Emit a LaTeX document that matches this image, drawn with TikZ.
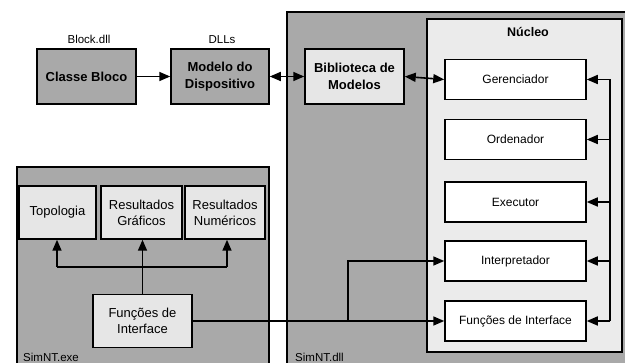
\documentclass[tikz,border=0pt]{standalone}
\usepackage{fontspec}
\setmainfont{Liberation Sans}
\usetikzlibrary{arrows.meta}
\definecolor{dgrey}{HTML}{A9A9A9}
\definecolor{lgrey}{HTML}{E6E6E6}
\definecolor{ngrey}{HTML}{EBEBEB}
\tikzset{
  box/.style={draw=black, line width=1.5pt, fill=lgrey, align=center, inner sep=0pt,
    font=\fontsize{13}{16}\selectfont},
  darkbox/.style={box, fill=dgrey, font=\fontsize{13}{17}\selectfont\bfseries},
  lightbold/.style={box, font=\fontsize{13}{17}\selectfont\bfseries},
  corebox/.style={box, fill=white, minimum width=141pt, minimum height=40pt,
    font=\fontsize{12}{14}\selectfont},
  panel/.style={draw=black, line width=1.5pt},
  conn/.style={line width=1.6pt, -{Triangle[length=11pt,width=9pt]}},
  dconn/.style={line width=1.6pt, {Triangle[length=11pt,width=9pt]}-{Triangle[length=11pt,width=9pt]}},
  wire/.style={line width=1.6pt},
  lbl/.style={font=\fontsize{11.5}{13}\selectfont, inner sep=0pt}
}
\begin{document}
\begin{tikzpicture}[x=1pt,y=-1pt]
\useasboundingbox (0,0) rectangle (625,363);
\begin{scope}
\clip (0,0) rectangle (625,363);
% outer panels
\draw[panel, fill=dgrey] (287,12) rectangle (640,380);
\draw[panel, fill=dgrey] (17,167) rectangle (269,380);
\draw[panel, fill=ngrey] (427,19) rectangle (622,352);
\end{scope}
% top row
\node[darkbox, minimum width=99pt, minimum height=55pt] (classe) at (86.5,76.5) {Classe Bloco};
\node[darkbox, minimum width=98pt, minimum height=55pt] (modelo) at (220,76.5) {Modelo do\\Dispositivo};
\node[lightbold, minimum width=99pt, minimum height=55pt] (biblio) at (354.5,76.5) {Biblioteca de\\Modelos};
\node[lbl, anchor=base] (blockdll) at (89,44) {Block.dll};
\node[lbl, anchor=base] (dlls) at (222,44) {DLLs};
\node[font=\fontsize{12.5}{14}\selectfont\bfseries, inner sep=0pt, anchor=base] (nucleo) at (528,37) {Núcleo};
% core boxes
\node[corebox] (ger) at (515.5,79.5) {Gerenciador};
\node[corebox] (ord) at (515.5,139.5) {Ordenador};
\node[corebox] (exe) at (515.5,202) {Executor};
\node[corebox] (interp) at (515.5,261) {Interpretador};
\node[corebox] (funcN) at (515.5,321) {Funções de Interface};
% left panel boxes
\node[box, minimum width=77pt, minimum height=53pt] (topo) at (57.5,212.5) {Topologia};
\node[box, minimum width=81pt, minimum height=53pt] (resG) at (141.5,212.5) {Resultados\\Gráficos};
\node[box, minimum width=80pt, minimum height=53pt] (resN) at (225,212.5) {Resultados\\Numéricos};
\node[box, minimum width=99pt, minimum height=53pt] (funcE) at (142.5,321) {Funções de\\Interface};
% panel labels
\node[lbl, anchor=base west] (exelbl) at (23,361.5) {SimNT.exe};
\node[lbl, anchor=base west] (dlllbl) at (295,361.5) {SimNT.dll};
% connectors
\draw[conn] (classe.east) -- (modelo.west);
\draw[dconn] (modelo.east) -- (biblio.west);
\draw[dconn] (biblio.east) -- (ger.west);
% right bus
\coordinate (busTop) at (610,79.5);
\coordinate (busBot) at (610,321);
\draw[wire] (busTop) -- (busBot);
\draw[conn] (busTop) -- (ger.east);
\draw[conn] (610,139.5) -- (ord.east);
\draw[conn] (610,202) -- (exe.east);
\draw[conn] (610,261) -- (interp.east);
\draw[conn] (busBot) -- (funcN.east);
% interface wiring
\coordinate (branch) at (348,321);
\draw[conn] (funcE.east) -- (funcN.west);
\draw[conn] (branch) |- (interp.west);
% left tree
\coordinate (treeL) at (57,267);
\coordinate (treeR) at (227,267);
\draw[conn] (funcE.north) -- (funcE.north |- resG.south);
\draw[wire] (treeL) -- (treeR);
\draw[conn] (treeL) -- (treeL |- topo.south);
\draw[conn] (treeR) -- (treeR |- resN.south);
\end{tikzpicture}
\end{document}
